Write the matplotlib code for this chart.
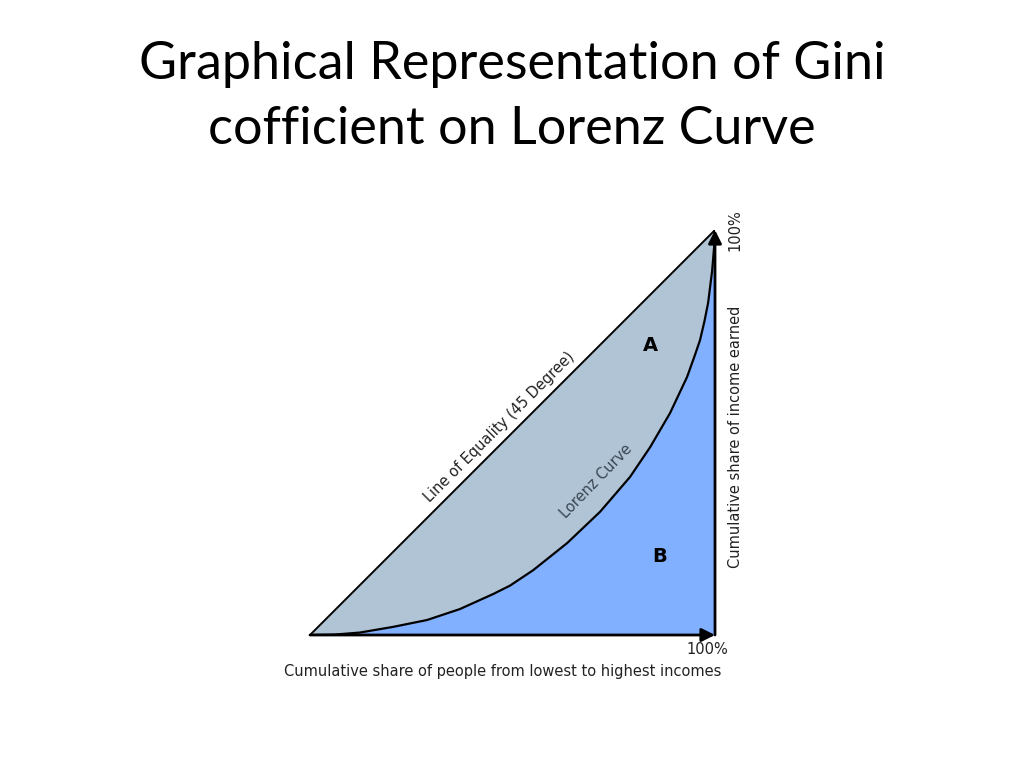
import matplotlib.pyplot as plt
import numpy as np

# cumulative share of people (x) and of income (y)
people_share = [0.0, 0.06, 0.123, 0.205, 0.289, 0.370, 0.452, 0.494, 0.551, 0.635,
                0.716, 0.741, 0.790, 0.840, 0.889, 0.931, 0.950, 0.963, 0.974,
                0.983, 0.993, 0.998, 1.0]
income_share = [0.0, 0.001, 0.006, 0.020, 0.037, 0.064, 0.101, 0.122, 0.160, 0.227,
                0.304, 0.333, 0.390, 0.464, 0.548, 0.637, 0.690, 0.728, 0.775,
                0.820, 0.900, 0.960, 1.0]
equality_x = [0.0, 1.0]
equality_y = [0.0, 1.0]

title_lines = ["Graphical Representation of Gini", "cofficient on Lorenz Curve"]
x_label = "Cumulative share of people from lowest to highest incomes"
y_label = "Cumulative share of income earned"

color_a = "#b0c4d6"
color_b = "#80b0ff"

fig = plt.figure(figsize=(10.24, 7.68), dpi=100)
fig.text(0.5, 1 - 65 / 768, title_lines[0], ha='center', va='center', fontsize=37.5,
         family='Lato')
fig.text(0.5, 1 - 130 / 768, title_lines[1], ha='center', va='center', fontsize=37.5,
         family='Lato')

ax = fig.add_axes([310 / 1024, 1 - 635 / 768, 405 / 1024, 405 / 768])
ax.set_xlim(0, 1)
ax.set_ylim(0, 1)
ax.axis('off')

# area B under the Lorenz curve, area A between curve and equality line
ax.fill_between(people_share, 0, income_share, color=color_b, lw=0)
ax.fill_between(people_share, income_share, people_share, color=color_a, lw=0)

ax.plot(equality_x, equality_y, color='black', lw=1.4, solid_capstyle='butt')
ax.plot(people_share, income_share, color='black', lw=1.6, solid_joinstyle='round')

# axes arrows
arrow = dict(arrowstyle='-|>', color='black', lw=2, mutation_scale=20, shrinkA=0, shrinkB=0)
ax.annotate('', xy=(1.0, 0.0), xytext=(0.0, 0.0), arrowprops=arrow, annotation_clip=False)
ax.annotate('', xy=(1.0, 1.0), xytext=(1.0, 0.0), arrowprops=arrow, annotation_clip=False)

txt = '#222222'
ax.text(0.467, 0.514, "Line of Equality (45 Degree)", rotation=45, ha='center', va='center',
        fontsize=10.5, color=txt)
ax.text(0.706, 0.38, "Lorenz Curve", rotation=46, ha='center', va='center',
        fontsize=10.5, color='#3a4650')
ax.text(0.84, 0.716, "A", ha='center', va='center', fontsize=14, fontweight='bold', color='black')
ax.text(0.864, 0.193, "B", ha='center', va='center', fontsize=14, fontweight='bold', color='black')

ax.text(1.032, -0.037, "100%", ha='right', va='center', fontsize=10.5, color=txt, clip_on=False)
ax.text(1.05, 1.0, "100%", rotation=90, ha='center', va='center', fontsize=10.5, color=txt,
        clip_on=False)
ax.text(1.05, 0.489, y_label, rotation=90, ha='center', va='center', fontsize=10.5, color=txt,
        clip_on=False)
ax.text(0.477, -0.089, x_label, ha='center', va='center', fontsize=10.5, color=txt,
        clip_on=False)

fig.savefig('out.png', dpi=100)
